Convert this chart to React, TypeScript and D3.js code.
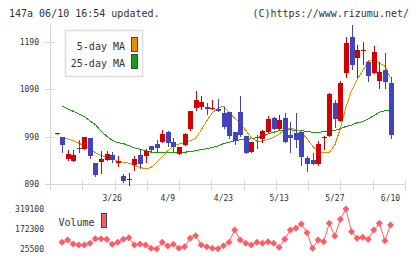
import React from 'react';
import * as d3 from 'd3';

const opens = [996, 989, 943, 939, 965, 964, 987, 934, 936, 941, 951, 934, 907, 900, 930, 951, 949, 970, 974, 979, 1000, 979, 953, 972, 1006, 1050, 1052, 1052, 1050, 1048, 1040, 1042, 1000, 1042, 991, 957, 988, 985, 1000, 1029, 1006, 1029, 993, 997, 1000, 944, 941, 932, 989, 991, 1061, 1023, 1124, 1200, 1156, 1172, 1147, 1124, 1107, 1130, 1103];
const highs = [997, 989, 962, 961, 983, 989, 987, 934, 960, 960, 958, 949, 911, 913, 949, 964, 964, 971, 983, 1004, 1002, 987, 968, 998, 1044, 1086, 1076, 1061, 1067, 1069, 1052, 1042, 1000, 1076, 991, 979, 993, 1004, 1033, 1031, 1035, 1040, 1021, 1040, 1000, 949, 955, 981, 991, 1082, 1067, 1107, 1200, 1225, 1183, 1189, 1149, 1181, 1147, 1166, 1116];
const lows = [996, 958, 941, 939, 957, 964, 945, 906, 914, 941, 936, 927, 894, 888, 920, 924, 936, 960, 960, 979, 970, 960, 953, 972, 1004, 1046, 1048, 1038, 1048, 1044, 1008, 987, 974, 991, 955, 957, 966, 979, 1000, 1006, 1006, 979, 957, 968, 930, 918, 932, 930, 964, 991, 1010, 1023, 1116, 1132, 1116, 1143, 1107, 1124, 1092, 1092, 987];
const closes = [997, 972, 953, 951, 964, 989, 948, 910, 943, 953, 941, 939, 896, 901, 943, 932, 960, 962, 966, 995, 977, 968, 968, 995, 1044, 1067, 1063, 1048, 1051, 1044, 1010, 991, 981, 993, 955, 979, 987, 1002, 1027, 1006, 1025, 979, 987, 983, 947, 932, 932, 974, 990, 1080, 1027, 1103, 1187, 1141, 1173, 1173, 1118, 1168, 1126, 1105, 993];

const ma5 = [null, 987, 985, 981, 976, 970, 964, 956, 950, 947, 944, 937, 936, 934, 929, 925, 922, 925, 935, 947, 960, 970, 974, 977, 981, 986, 1004, 1023, 1040, 1050, 1054, 1041, 1029, 1018, 1003, 987, 980, 980, 984, 988, 995, 1004, 1007, 1005, 1000, 985, 970, 957, 956, 956, 972, 1007, 1052, 1086, 1110, 1128, 1149, 1152, 1145, 1138, 1113];
const ma25 = [null, 1054, 1048, 1043, 1038, 1032, 1023, 1015, 1001, 991, 982, 977, 975, 971, 966, 963, 960, 957, 957, 957, 957, 957, 957, 957, 958, 960, 963, 964, 967, 970, 975, 978, 981, 983, 984, 985, 988, 991, 995, 999, 1002, 1003, 1004, 1003, 1002, 1001, 999, 999, 1000, 1002, 1003, 1007, 1011, 1014, 1019, 1021, 1027, 1034, 1041, 1044, 1045];
const volumes = [null, 74700, 91600, 62200, 54900, 54900, 67300, 101100, 101100, 96700, 60000, 74700, 96700, 108400, 54900, 62200, 54900, 30600, 25500, 74700, 47500, 60000, 30600, 42400, 104000, 123100, 54900, 42400, 30600, 28000, 49700, 74700, 165000, 91600, 67300, 54900, 74700, 67300, 79100, 67300, 38000, 96700, 165000, 177400, 209000, 145100, 30600, 91600, 79100, 214100, 120900, 243500, 319100, 152500, 104000, 111400, 96700, 165000, 214100, 86400, 201700];

const dateLabels = ['3/26', '4/9', '4/23', '5/13', '5/27', '6/10'];
const dateLabelIndex = [10, 20, 30, 40, 50, 60];
const priceTicks = [890, 990, 1090, 1190];
const volumeTicks = [25500, 172300, 319100];
const legendItems = ['5-day MA', '25-day MA'];

const RED = '#d40000';
const BLUE = '#4343bd';
const ORANGE = '#f08c00';
const GREEN = '#10a010';
const PINK = '#ff5c66';
const AXIS = '#d6d6d6';
const TEXT = '#333';
const MONO = '"DejaVu Sans Mono", "Liberation Mono", monospace';

export default function App() {
  const W = 420, H = 259;
  const x = d3.scaleLinear().domain([0, 60]).range([56.5, 390.5]);
  const y = d3.scaleLinear().domain([890, 1190]).range([184, 41.5]);
  const yv = d3.scaleLinear().domain([25500, 319100]).range([249, 209]);
  const grid = d3.scaleLinear().domain([0, 11]).range([50, 405]);

  const idx = d3.range(opens.length);
  const maLine = (arr: (number | null)[]) =>
    d3.line<number>()
      .defined((i) => arr[i] != null)
      .x((i) => x(i))
      .y((i) => y(arr[i] as number))(idx) || '';
  const volLine = d3.line<number>()
    .defined((i) => volumes[i] != null)
    .x((i) => x(i))
    .y((i) => yv(volumes[i] as number))(idx) || '';

  return (
    <svg width={W} height={H} style={{ position: 'absolute', left: 0, top: 0, background: '#fff' }}>
      <rect x={0} y={0} width={W} height={H} fill="#fff" />
      <text x={9} y={16.5} fontFamily={MONO} fontSize={10} fill={TEXT}>147a 06/10 16:54 updated.</text>
      <text x={409} y={16.5} fontFamily={MONO} fontSize={10} fill={TEXT} textAnchor="end">(C)https://www.rizumu.net/</text>

      {/* axes */}
      <line x1={50.5} x2={50.5} y1={25} y2={190} stroke={AXIS} strokeWidth={1} />
      <line x1={50} x2={405} y1={184.5} y2={184.5} stroke={AXIS} strokeWidth={1} />
      {d3.range(12).map((k) => (
        <line key={'g' + k} x1={Math.round(grid(k)) + 0.5} x2={Math.round(grid(k)) + 0.5} y1={181} y2={190} stroke={AXIS} strokeWidth={1} />
      ))}
      {priceTicks.map((p) => (
        <g key={'p' + p}>
          <line x1={45} x2={54} y1={Math.round(y(p)) + 0.5} y2={Math.round(y(p)) + 0.5} stroke={AXIS} strokeWidth={1} />
          <text x={39} y={y(p) + 3} fontFamily={MONO} fontSize={8} fill={TEXT} textAnchor="end">{p}</text>
        </g>
      ))}
      {dateLabels.map((d, k) => (
        <text key={'d' + d} x={x(dateLabelIndex[k])} y={201} fontFamily={MONO} fontSize={8} fill={TEXT} textAnchor="middle">{d}</text>
      ))}
      {volumeTicks.map((v) => (
        <text key={'v' + v} x={44} y={yv(v) + 3} fontFamily={MONO} fontSize={8} fill={TEXT} textAnchor="end">{v}</text>
      ))}

      {/* moving averages */}
      <path d={maLine(ma25)} fill="none" stroke={GREEN} strokeWidth={1} shapeRendering="crispEdges" />
      <path d={maLine(ma5)} fill="none" stroke={ORANGE} strokeWidth={1} shapeRendering="crispEdges" />

      {/* candles */}
      {idx.map((i) => {
        const o = opens[i], c = closes[i], h = highs[i], l = lows[i];
        const col = c >= o ? RED : BLUE;
        const cx = Math.round(x(i));
        const top = Math.round(y(Math.max(o, c)));
        const bot = Math.round(y(Math.min(o, c)));
        const bh = Math.max(1, bot - top);
        return (
          <g key={'c' + i}>
            <line x1={cx + 0.5} x2={cx + 0.5} y1={Math.round(y(h))} y2={Math.round(y(l)) + 1} stroke={col} strokeWidth={1} shapeRendering="crispEdges" />
            <rect x={cx - 2} y={top} width={5} height={bh} fill={col} shapeRendering="crispEdges" />
          </g>
        );
      })}

      {/* legend */}
      <rect x={65.5} y={30.5} width={77} height={46} fill="#fff" stroke="#dcdcdc" strokeWidth={1.5} />
      {legendItems.map((t, k) => (
        <g key={'l' + t}>
          <text x={125} y={50 + k * 17} fontFamily={MONO} fontSize={10} fill={TEXT} textAnchor="end">{t}</text>
          <rect x={131.5} y={37.5 + k * 17} width={6} height={14} fill={k === 0 ? ORANGE : GREEN} stroke="#444" strokeWidth={1} />
        </g>
      ))}

      {/* volume */}
      <path d={volLine} fill="none" stroke={PINK} strokeWidth={1} />
      {idx.filter((i) => volumes[i] != null).map((i) => {
        const vx = x(i), vy = yv(volumes[i] as number);
        return <path key={'vd' + i} d={`M${vx},${vy - 3.5}L${vx + 3.5},${vy}L${vx},${vy + 3.5}L${vx - 3.5},${vy}Z`} fill={PINK} />;
      })}
      <text x={58.5} y={225.5} fontFamily={MONO} fontSize={10} fill={TEXT}>Volume</text>
      <rect x={101.5} y={213.5} width={5} height={14} fill={PINK} stroke="#444" strokeWidth={1} />
    </svg>
  );
}
